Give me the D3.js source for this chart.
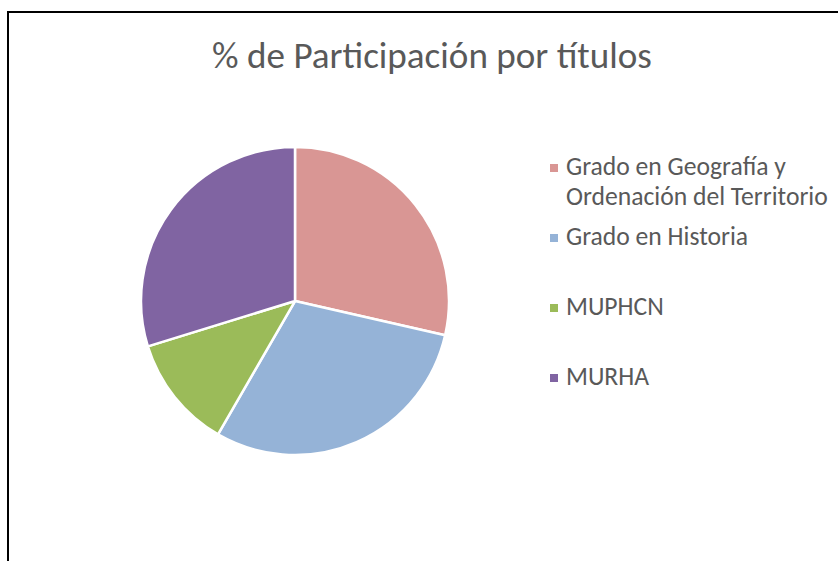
<!DOCTYPE html>
<html>
<head>
<meta charset="utf-8">
<script src="https://cdn.jsdelivr.net/npm/d3@7"></script>
<style>
  html, body { margin: 0; padding: 0; background: #fff; }
  svg { display: block; }
</style>
</head>
<body>
<div id="chart"></div>
<script>
// Datos del gráfico
const titulos = ["Grado en Geografía y Ordenación del Territorio", "Grado en Historia", "MUPHCN", "MURHA"];
const lineasLeyenda = [["Grado en Geografía y", "Ordenación del Territorio"], ["Grado en Historia"], ["MUPHCN"], ["MURHA"]];
const participacion = [24, 25, 10, 25];
const colores = ["#D99694", "#95B3D7", "#9BBB59", "#8064A2"];
const tituloGrafico = "% de Participación por títulos";

const width = 838, height = 561;
const fuente = "Carlito, Calibri, 'Open Sans', sans-serif";

const svg = d3.select("#chart").append("svg")
  .attr("width", width)
  .attr("height", height);

// Borde del área del gráfico
svg.append("rect")
  .attr("x", 8).attr("y", 12)
  .attr("width", width).attr("height", height)
  .attr("fill", "#fff")
  .attr("stroke", "#000")
  .attr("stroke-width", 2);

// Título
const titulo = svg.append("text")
  .attr("x", 432)
  .attr("y", 68)
  .attr("text-anchor", "middle")
  .attr("fill", "#595959")
  .style("font-family", fuente)
  .style("font-size", "32px")
  .text(tituloGrafico);
// ajustar el tamaño al ancho del original
const wt = titulo.node().getComputedTextLength();
titulo.style("font-size", (32 * 440 / wt) + "px");

// Tarta
const cx = 295, cy = 301, radius = 154;
const color = d3.scaleOrdinal().domain(titulos).range(colores);

const pie = d3.pie().sort(null).value(d => d.value);
const arc = d3.arc().innerRadius(0).outerRadius(radius);

const datos = titulos.map((t, i) => ({ name: t, value: participacion[i] }));

svg.append("g")
  .attr("transform", `translate(${cx},${cy})`)
  .selectAll("path")
  .data(pie(datos))
  .join("path")
    .attr("d", arc)
    .attr("fill", d => color(d.data.name))
    .attr("stroke", "#fff")
    .attr("stroke-width", 2.5)
    .attr("stroke-linejoin", "round");

// Leyenda
const yLeyenda = d3.scalePoint().domain(titulos).range([168, 378]);
const leyenda = svg.append("g")
  .selectAll("g")
  .data(titulos)
  .join("g")
    .attr("transform", d => `translate(550,${yLeyenda(d)})`);

leyenda.append("rect")
  .attr("x", 0).attr("y", -4)
  .attr("width", 8).attr("height", 8)
  .attr("fill", d => color(d));

const textos = leyenda.append("text")
  .attr("fill", "#595959")
  .style("font-family", fuente)
  .style("font-size", "19px");

textos.selectAll("tspan")
  .data((d, i) => lineasLeyenda[i])
  .join("tspan")
    .attr("x", 16)
    .attr("y", (d, j) => 7 + j * 29.5)
    .text(d => d);

// ajustar tamaño de fuente para que "Ordenación del Territorio" mida ~262px
const ref = textos.filter((d, i) => i === 0).selectAll("tspan").filter((d, j) => j === 1).node();
const wl = ref.getComputedTextLength();
textos.style("font-size", (19 * 262 / wl) + "px");
</script>
</body>
</html>
